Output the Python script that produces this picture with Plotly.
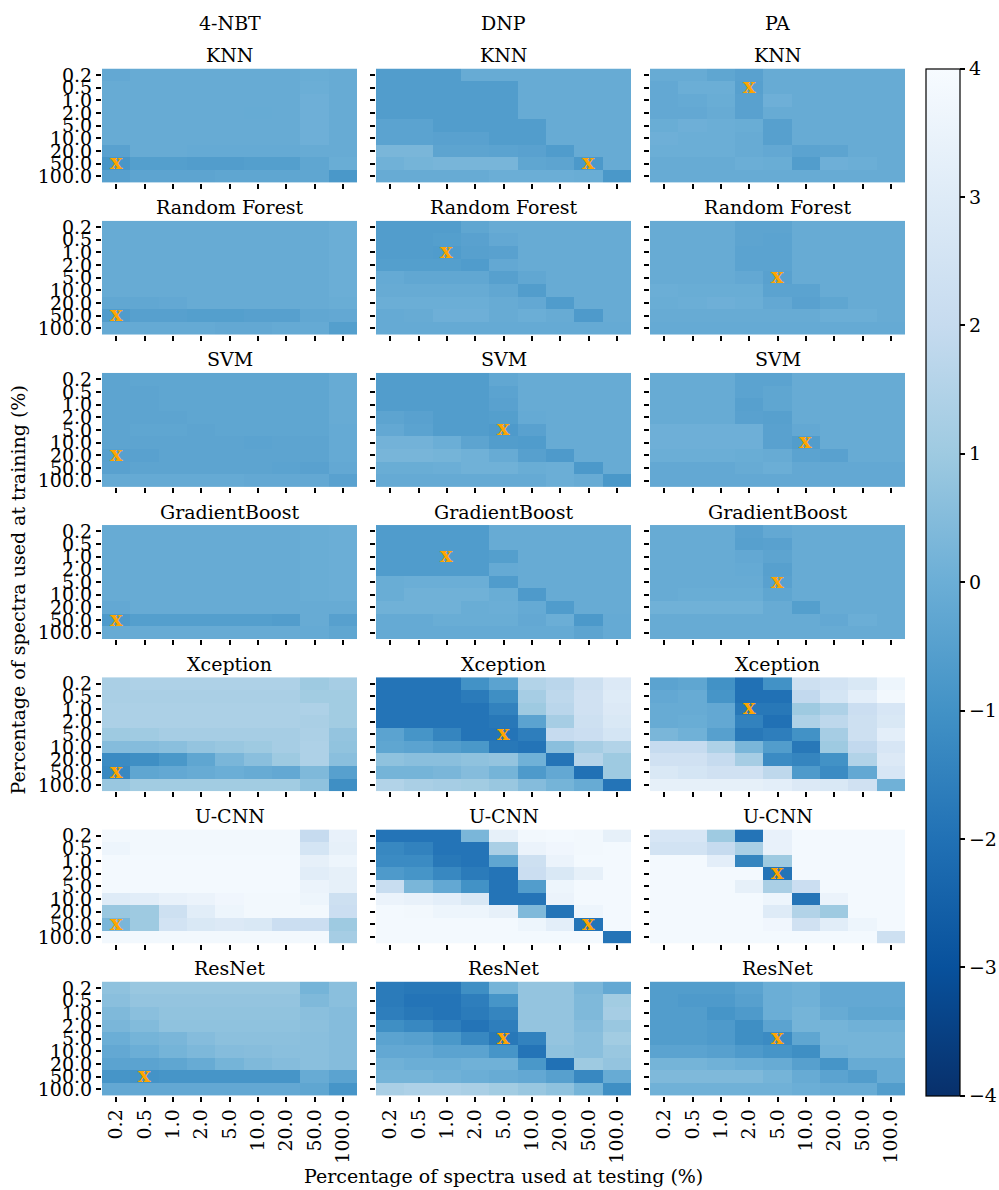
import plotly.graph_objects as go
from plotly.subplots import make_subplots

W, H = 999, 1190

pct_labels = ["0.2", "0.5", "1.0", "2.0", "5.0", "10.0", "20.0", "50.0", "100.0"]
analytes = ["4-NBT", "DNP", "PA"]
models = ["KNN", "Random Forest", "SVM", "GradientBoost", "Xception", "U-CNN", "ResNet"]

# rows: % spectra at training (0.2 ... 100.0), cols: % spectra at testing (0.2 ... 100.0)
knn_4nbt = [
    [-0.2, -0.1, -0.1, -0.1, -0.1, -0.1, -0.1, -0.05, -0.1],
    [-0.1, -0.1, -0.1, -0.1, -0.1, -0.1, -0.1, 0.0, -0.1],
    [-0.1, -0.1, -0.1, -0.1, -0.1, -0.1, -0.1, 0.05, -0.1],
    [-0.1, -0.1, -0.1, -0.1, -0.1, -0.12, -0.1, 0.05, -0.1],
    [-0.1, -0.1, -0.1, -0.1, -0.1, -0.1, -0.1, 0.05, -0.1],
    [-0.1, -0.1, -0.1, -0.1, -0.1, -0.1, -0.1, 0.05, -0.1],
    [-0.45, -0.1, -0.1, -0.15, -0.15, -0.15, -0.15, -0.1, -0.1],
    [-0.85, -0.55, -0.55, -0.6, -0.6, -0.55, -0.55, -0.3, -0.05],
    [-0.5, -0.35, -0.35, -0.35, -0.3, -0.3, -0.3, -0.3, -0.8],
]
knn_dnp = [
    [-0.6, -0.6, -0.6, -0.1, -0.1, -0.1, -0.1, -0.1, -0.1],
    [-0.6, -0.6, -0.62, -0.62, -0.62, -0.1, -0.1, -0.1, -0.1],
    [-0.6, -0.6, -0.6, -0.6, -0.6, -0.1, -0.1, -0.1, -0.1],
    [-0.6, -0.6, -0.6, -0.6, -0.6, -0.1, -0.1, -0.1, -0.1],
    [-0.4, -0.4, -0.6, -0.6, -0.6, -0.6, -0.1, -0.1, -0.1],
    [-0.4, -0.4, -0.45, -0.45, -0.62, -0.62, -0.1, -0.1, -0.1],
    [0.3, 0.3, -0.35, -0.35, -0.4, -0.45, -0.65, -0.1, -0.1],
    [0.1, 0.2, 0.25, 0.25, 0.25, -0.3, -0.35, -0.75, -0.1],
    [-0.1, -0.1, -0.1, -0.1, 0.0, 0.0, 0.0, -0.05, -0.8],
]
knn_pa = [
    [-0.1, -0.1, -0.3, -0.45, -0.1, -0.1, -0.1, -0.1, -0.1],
    [-0.2, 0.0, 0.0, -0.5, -0.1, -0.1, -0.1, -0.1, -0.1],
    [-0.2, -0.15, -0.05, -0.45, 0.05, -0.1, -0.1, -0.1, -0.1],
    [-0.2, -0.2, -0.1, -0.45, -0.1, -0.1, -0.1, -0.1, -0.1],
    [-0.05, 0.05, 0.0, -0.05, -0.5, -0.1, -0.1, -0.1, -0.1],
    [0.05, 0.0, 0.0, -0.1, -0.5, -0.1, -0.1, -0.1, -0.1],
    [0.0, 0.0, 0.0, -0.1, -0.2, -0.4, -0.35, -0.1, -0.1],
    [-0.1, -0.1, -0.1, 0.0, -0.05, -0.6, 0.05, 0.0, -0.1],
    [-0.1, -0.1, -0.1, -0.1, -0.1, -0.1, -0.1, -0.1, -0.1],
]
rf_4nbt = [
    [-0.1, -0.1, -0.1, -0.1, -0.1, -0.1, -0.1, -0.1, 0.0],
    [-0.1, -0.1, -0.1, -0.1, -0.1, -0.1, -0.1, -0.1, 0.0],
    [-0.1, -0.1, -0.1, -0.1, -0.1, -0.1, -0.1, -0.1, 0.0],
    [-0.1, -0.1, -0.1, -0.1, -0.1, -0.1, -0.1, -0.1, 0.0],
    [-0.1, -0.1, -0.1, -0.1, -0.1, -0.1, -0.1, -0.1, 0.0],
    [-0.1, -0.1, -0.1, -0.1, -0.1, -0.1, -0.1, -0.1, 0.0],
    [-0.25, -0.25, -0.2, -0.1, -0.1, -0.1, -0.1, -0.1, -0.05],
    [-0.65, -0.5, -0.5, -0.55, -0.55, -0.5, -0.5, -0.25, -0.2],
    [-0.15, -0.15, -0.15, -0.15, -0.2, -0.2, -0.15, -0.15, -0.55],
]
rf_dnp = [
    [-0.6, -0.6, -0.6, -0.3, -0.1, -0.1, -0.1, -0.1, -0.1],
    [-0.6, -0.6, -0.55, -0.45, -0.2, -0.1, -0.1, -0.1, -0.1],
    [-0.6, -0.6, -0.65, -0.5, -0.45, -0.1, -0.1, -0.1, -0.1],
    [-0.55, -0.55, -0.55, -0.65, -0.2, -0.1, -0.1, -0.1, -0.1],
    [-0.15, -0.25, -0.25, -0.25, -0.5, -0.25, -0.1, -0.1, -0.1],
    [-0.1, -0.1, -0.1, -0.1, -0.25, -0.6, -0.1, -0.1, -0.1],
    [0.0, 0.0, 0.0, 0.0, -0.1, -0.2, -0.65, -0.1, -0.1],
    [-0.15, -0.1, 0.05, 0.05, -0.1, 0.0, -0.1, -0.7, -0.1],
    [-0.15, -0.15, -0.15, -0.15, -0.15, -0.15, -0.15, -0.15, -0.15],
]
rf_pa = [
    [-0.1, -0.1, -0.1, -0.35, -0.35, -0.1, -0.1, -0.1, -0.1],
    [-0.1, -0.1, -0.1, -0.35, -0.4, -0.1, -0.1, -0.1, -0.1],
    [-0.1, -0.1, -0.1, -0.4, -0.4, -0.1, -0.1, -0.1, -0.1],
    [-0.1, -0.1, -0.1, -0.4, -0.4, -0.1, -0.1, -0.1, -0.1],
    [-0.1, -0.1, -0.1, -0.2, -0.45, -0.1, -0.1, -0.1, -0.1],
    [0.0, -0.05, -0.05, -0.05, -0.4, -0.4, -0.1, -0.1, -0.1],
    [-0.05, 0.0, 0.05, 0.0, -0.2, -0.45, -0.3, -0.1, -0.1],
    [-0.1, -0.1, -0.1, -0.1, -0.1, -0.1, 0.0, 0.0, -0.1],
    [-0.15, -0.15, -0.15, -0.15, -0.15, -0.15, -0.15, -0.15, -0.15],
]
svm_4nbt = [
    [-0.35, -0.3, -0.3, -0.3, -0.3, -0.3, -0.3, -0.3, -0.1],
    [-0.35, -0.35, -0.3, -0.3, -0.3, -0.3, -0.3, -0.3, -0.1],
    [-0.35, -0.35, -0.3, -0.3, -0.3, -0.3, -0.3, -0.3, -0.1],
    [-0.35, -0.35, -0.35, -0.3, -0.3, -0.3, -0.3, -0.3, -0.1],
    [-0.35, -0.3, -0.3, -0.35, -0.3, -0.3, -0.3, -0.3, -0.15],
    [-0.35, -0.35, -0.35, -0.35, -0.35, -0.4, -0.35, -0.35, -0.15],
    [-0.5, -0.45, -0.35, -0.35, -0.35, -0.35, -0.35, -0.35, -0.15],
    [-0.45, -0.35, -0.35, -0.35, -0.35, -0.35, -0.4, -0.45, -0.2],
    [-0.15, -0.15, -0.15, -0.15, -0.15, -0.2, -0.2, -0.2, -0.45],
]
svm_dnp = [
    [-0.6, -0.6, -0.6, -0.6, -0.25, -0.1, -0.1, -0.1, -0.1],
    [-0.6, -0.6, -0.6, -0.6, -0.4, -0.1, -0.1, -0.1, -0.1],
    [-0.6, -0.6, -0.6, -0.6, -0.45, -0.1, -0.1, -0.1, -0.1],
    [-0.35, -0.45, -0.6, -0.6, -0.55, -0.15, -0.1, -0.1, -0.1],
    [-0.2, -0.4, -0.6, -0.6, -0.7, -0.45, -0.1, -0.1, -0.1],
    [0.15, 0.15, 0.0, -0.35, -0.6, -0.65, -0.1, -0.1, -0.1],
    [0.25, 0.25, 0.2, 0.1, -0.1, -0.5, -0.7, -0.1, -0.1],
    [-0.05, -0.05, 0.0, 0.1, 0.1, -0.05, 0.0, -0.75, -0.1],
    [-0.15, -0.15, -0.15, -0.15, -0.15, -0.15, 0.0, -0.1, -0.8],
]
svm_pa = [
    [-0.1, -0.1, -0.1, -0.4, -0.4, -0.1, -0.1, -0.1, -0.1],
    [-0.1, -0.1, -0.1, -0.4, -0.3, -0.1, -0.1, -0.1, -0.1],
    [-0.1, -0.1, -0.1, -0.5, -0.3, -0.1, -0.1, -0.1, -0.1],
    [-0.1, -0.1, -0.1, -0.45, -0.5, -0.1, -0.1, -0.1, -0.1],
    [0.05, 0.05, 0.05, 0.05, -0.45, -0.2, -0.1, -0.1, -0.1],
    [0.05, 0.05, 0.05, 0.05, -0.45, -0.6, -0.1, -0.1, -0.1],
    [0.0, 0.0, 0.0, -0.05, -0.1, -0.4, -0.45, -0.1, -0.1],
    [-0.2, -0.2, -0.2, -0.1, 0.0, -0.2, -0.2, -0.2, -0.2],
    [-0.2, -0.2, -0.2, -0.2, -0.2, -0.2, -0.2, -0.2, -0.2],
]
gb_4nbt = [
    [-0.1, -0.1, -0.1, -0.1, -0.1, -0.1, -0.1, -0.05, 0.0],
    [-0.1, -0.1, -0.1, -0.1, -0.1, -0.1, -0.1, -0.05, 0.0],
    [-0.1, -0.1, -0.1, -0.1, -0.1, -0.1, -0.1, -0.05, 0.0],
    [-0.1, -0.1, -0.1, -0.1, -0.1, -0.1, -0.1, -0.05, 0.0],
    [-0.1, -0.1, -0.1, -0.1, -0.1, -0.1, -0.1, -0.05, 0.0],
    [-0.1, -0.1, -0.1, -0.1, -0.1, -0.1, -0.1, -0.05, 0.0],
    [-0.2, -0.1, -0.1, -0.1, -0.1, -0.1, -0.1, -0.1, -0.1],
    [-0.7, -0.55, -0.55, -0.55, -0.55, -0.55, -0.6, -0.1, -0.5],
    [-0.1, -0.1, -0.1, -0.1, -0.1, -0.1, -0.1, -0.15, -0.3],
]
gb_dnp = [
    [-0.65, -0.65, -0.65, -0.65, -0.1, -0.1, -0.1, -0.1, -0.1],
    [-0.65, -0.65, -0.65, -0.65, -0.1, -0.1, -0.1, -0.1, -0.1],
    [-0.65, -0.65, -0.65, -0.65, -0.55, -0.1, -0.1, -0.1, -0.1],
    [-0.65, -0.65, -0.65, -0.65, -0.15, -0.1, -0.1, -0.1, -0.1],
    [-0.05, 0.0, 0.0, 0.0, -0.65, -0.1, -0.1, -0.1, -0.1],
    [-0.05, 0.1, 0.1, 0.1, -0.05, -0.7, -0.1, -0.1, -0.1],
    [0.1, 0.1, 0.1, -0.05, 0.0, -0.15, -0.65, -0.1, -0.1],
    [-0.15, -0.15, -0.05, -0.05, -0.05, -0.2, 0.0, -0.75, -0.15],
    [-0.15, -0.15, -0.15, -0.15, -0.15, -0.15, -0.15, -0.35, -0.15],
]
gb_pa = [
    [-0.1, -0.1, -0.1, -0.45, -0.2, -0.1, -0.1, -0.1, -0.1],
    [-0.1, -0.1, -0.1, -0.5, -0.45, -0.1, -0.1, -0.1, -0.1],
    [-0.1, -0.1, -0.1, -0.2, -0.35, -0.1, -0.1, -0.1, -0.1],
    [-0.1, -0.1, -0.1, -0.15, -0.5, -0.1, -0.1, -0.1, -0.1],
    [-0.1, -0.1, -0.1, -0.1, -0.45, -0.1, -0.1, -0.1, -0.1],
    [-0.1, -0.05, -0.05, -0.05, -0.3, -0.1, -0.1, -0.1, -0.1],
    [0.1, 0.1, 0.1, 0.1, -0.1, -0.55, -0.1, -0.1, -0.1],
    [-0.1, -0.1, -0.1, -0.1, -0.1, -0.1, -0.2, 0.0, -0.1],
    [-0.1, -0.1, -0.1, -0.1, -0.1, -0.1, -0.1, -0.1, -0.1],
]
xception_4nbt = [
    [1.3, 1.4, 1.4, 1.4, 1.4, 1.4, 1.4, 1.0, 1.2],
    [1.3, 1.3, 1.3, 1.3, 1.3, 1.3, 1.3, 1.1, 1.1],
    [1.35, 1.35, 1.35, 1.35, 1.35, 1.35, 1.35, 1.4, 1.1],
    [1.35, 1.35, 1.35, 1.35, 1.35, 1.35, 1.35, 1.3, 1.1],
    [1.0, 1.05, 1.2, 1.2, 1.2, 1.2, 1.2, 1.35, 0.8],
    [0.5, 0.5, 0.6, 0.8, 0.9, 1.0, 1.2, 1.4, 0.75],
    [-1.2, -1.1, -0.8, -0.3, 0.3, 0.6, 1.0, 1.4, 0.6],
    [-1.3, -0.3, -0.2, -0.1, 0.0, -0.1, -0.2, 0.4, -0.5],
    [0.9, 1.1, 1.1, 1.1, 1.1, 1.1, 1.1, 0.7, -1.1],
]
xception_dnp = [
    [-1.9, -1.9, -1.9, -1.0, -0.4, 1.5, 1.7, 2.3, 2.9],
    [-1.9, -1.9, -1.9, -1.7, -1.1, 1.2, 1.8, 2.4, 3.0],
    [-1.9, -1.9, -1.9, -1.9, -1.5, 1.0, 1.7, 2.4, 2.9],
    [-1.9, -1.9, -1.9, -1.9, -1.8, -0.4, 1.2, 2.3, 2.8],
    [-0.4, -0.9, -1.4, -1.9, -1.9, -1.6, 2.0, 2.2, 2.6],
    [-0.3, -0.4, -0.6, -0.8, -1.8, -1.9, 0.6, 1.2, 1.5],
    [0.7, 0.6, 0.6, 0.7, 0.8, 0.1, -1.9, 1.6, 1.0],
    [0.2, 0.2, 0.3, 0.5, 0.2, -0.7, -0.2, -2.0, 1.0],
    [1.5, 1.3, 1.2, 1.1, 0.9, 0.5, 0.2, -0.1, -1.9],
]
xception_pa = [
    [-0.4, -0.3, -1.0, -2.0, -1.0, 2.3, 2.5, 2.8, 3.6],
    [-0.2, -0.1, -0.9, -2.0, -2.0, 1.9, 2.6, 3.2, 3.8],
    [-0.1, -0.1, -0.2, -1.8, -1.8, 1.0, 1.4, 2.2, 2.7],
    [-0.1, -0.05, -0.2, -1.5, -2.0, 1.4, 1.8, 2.3, 2.8],
    [0.3, 0.1, -0.5, -1.8, -1.6, -1.0, 1.2, 2.3, 3.2],
    [2.0, 2.0, 1.4, 0.3, -0.6, -1.8, 1.0, 1.9, 2.7],
    [2.4, 2.4, 2.0, 1.2, -1.2, -1.4, -1.0, 1.5, 2.9],
    [2.8, 2.6, 2.4, 2.4, 1.8, -0.7, -1.2, -0.2, 2.7],
    [3.3, 3.3, 3.3, 3.3, 3.2, 2.9, 2.8, 2.4, 0.1],
]
ucnn_4nbt = [
    [3.8, 3.8, 3.8, 3.8, 3.8, 3.8, 3.8, 2.0, 3.4],
    [3.6, 3.8, 3.8, 3.8, 3.8, 3.8, 3.8, 2.6, 3.3],
    [3.85, 3.85, 3.85, 3.85, 3.85, 3.85, 3.85, 3.3, 3.6],
    [3.85, 3.85, 3.85, 3.85, 3.85, 3.85, 3.85, 3.1, 3.3],
    [3.85, 3.85, 3.85, 3.85, 3.85, 3.85, 3.85, 3.5, 3.3],
    [3.0, 3.1, 3.4, 3.5, 3.7, 3.8, 3.8, 3.6, 2.3],
    [0.9, 1.0, 2.3, 3.1, 3.6, 3.8, 3.8, 3.8, 2.2],
    [0.3, 1.0, 2.5, 2.8, 2.9, 2.8, 2.2, 2.2, 1.0],
    [3.8, 3.8, 3.8, 3.8, 3.8, 3.8, 3.8, 3.8, 1.2],
]
ucnn_dnp = [
    [-1.9, -1.9, -1.9, 0.3, 3.3, 3.8, 3.85, 3.8, 3.3],
    [-1.3, -1.5, -1.9, -1.9, 1.3, 3.5, 3.7, 3.8, 3.85],
    [-1.2, -1.2, -1.8, -1.9, -0.3, 2.3, 3.5, 3.85, 3.85],
    [-0.7, -0.9, -1.3, -1.7, -1.9, 2.2, 2.8, 3.3, 3.85],
    [2.1, 0.3, -0.2, -1.0, -1.9, -0.6, 3.6, 3.85, 3.85],
    [3.5, 3.4, 3.2, 2.8, -1.9, -1.9, 3.5, 3.85, 3.85],
    [3.85, 3.8, 3.6, 3.6, 3.3, 0.4, -1.9, 3.6, 3.85],
    [3.85, 3.85, 3.85, 3.85, 3.85, 3.6, 3.2, -1.9, 3.85],
    [3.85, 3.85, 3.85, 3.85, 3.85, 3.85, 3.85, 3.85, -1.9],
]
ucnn_pa = [
    [2.7, 2.7, 1.0, -1.9, 3.4, 3.85, 3.85, 3.85, 3.85],
    [2.5, 2.5, 2.0, 1.3, 3.4, 3.85, 3.85, 3.85, 3.85],
    [3.85, 3.85, 3.2, -1.4, 1.0, 3.85, 3.85, 3.85, 3.85],
    [3.85, 3.85, 3.85, 3.85, -1.9, 3.85, 3.85, 3.85, 3.85],
    [3.85, 3.85, 3.85, 3.3, 1.3, 2.2, 3.85, 3.85, 3.85],
    [3.85, 3.85, 3.85, 3.85, 3.6, -1.9, 3.5, 3.85, 3.85],
    [3.85, 3.85, 3.85, 3.85, 3.0, 1.5, 1.0, 3.85, 3.85],
    [3.85, 3.85, 3.85, 3.85, 3.7, 2.4, 3.1, 3.6, 3.85],
    [3.85, 3.85, 3.85, 3.85, 3.85, 3.85, 3.85, 3.85, 2.3],
]
resnet_4nbt = [
    [0.7, 0.9, 0.9, 0.9, 0.9, 0.9, 0.9, 0.2, 0.6],
    [0.6, 0.8, 0.8, 0.8, 0.8, 0.8, 0.8, 0.4, 0.6],
    [0.4, 0.6, 0.75, 0.75, 0.75, 0.75, 0.75, 0.6, 0.5],
    [0.3, 0.45, 0.7, 0.7, 0.7, 0.7, 0.7, 0.65, 0.5],
    [0.0, 0.2, 0.3, 0.5, 0.65, 0.65, 0.65, 0.6, 0.5],
    [-0.2, 0.0, 0.2, 0.35, 0.5, 0.55, 0.6, 0.6, 0.5],
    [-0.4, -0.4, -0.3, -0.1, 0.2, 0.4, 0.5, 0.6, 0.5],
    [-0.9, -0.95, -0.9, -0.9, -0.9, -0.9, -0.9, -0.1, -0.4],
    [-0.2, -0.2, -0.2, -0.2, -0.2, -0.2, -0.2, -0.3, -0.9],
]
resnet_dnp = [
    [-1.7, -1.8, -1.8, -1.1, 0.2, 0.8, 0.8, 0.3, -0.2],
    [-1.7, -1.9, -1.9, -1.6, -0.9, 0.8, 0.8, 0.4, 1.1],
    [-1.6, -1.8, -1.9, -1.7, -1.4, 0.8, 0.8, 0.4, 1.2],
    [-1.1, -1.3, -1.6, -1.9, -1.6, 0.8, 0.8, 0.5, 0.9],
    [-0.4, -0.5, -0.8, -1.3, -1.8, -1.5, 0.8, 0.6, 1.1],
    [-0.2, -0.2, -0.4, -0.4, -0.9, -1.9, 0.7, 0.6, 0.9],
    [0.1, 0.0, 0.0, 0.1, 0.1, -0.8, -2.0, 1.0, 0.8],
    [0.2, 0.2, 0.1, 0.0, -0.1, -0.2, -0.5, -1.3, -0.1],
    [1.3, 1.4, 1.4, 1.3, 1.1, 0.9, 0.7, 0.2, -1.1],
]
resnet_pa = [
    [-0.6, -0.6, -0.6, -0.4, 0.0, 0.1, -0.2, -0.2, -0.2],
    [-0.6, -0.7, -0.7, -0.5, 0.0, 0.1, -0.2, -0.2, -0.2],
    [-0.6, -0.6, -0.9, -0.7, 0.0, 0.2, -0.1, -0.3, -0.3],
    [-0.6, -0.6, -0.7, -1.1, -0.4, 0.2, 0.2, 0.1, 0.1],
    [-0.6, -0.6, -0.7, -1.1, -1.2, -0.3, 0.2, 0.2, 0.2],
    [-0.4, -0.4, -0.5, -0.7, -0.9, -1.1, 0.1, 0.2, 0.2],
    [0.2, 0.2, 0.1, 0.0, -0.1, -0.5, -0.9, -0.1, -0.1],
    [0.4, 0.4, 0.4, 0.4, 0.2, -0.1, -0.4, -0.6, -0.1],
    [0.1, 0.1, 0.1, 0.1, 0.1, 0.0, -0.1, -0.1, -0.6],
]

panels = [
    [knn_4nbt, knn_dnp, knn_pa],
    [rf_4nbt, rf_dnp, rf_pa],
    [svm_4nbt, svm_dnp, svm_pa],
    [gb_4nbt, gb_dnp, gb_pa],
    [xception_4nbt, xception_dnp, xception_pa],
    [ucnn_4nbt, ucnn_dnp, ucnn_pa],
    [resnet_4nbt, resnet_dnp, resnet_pa],
]

# marked best cell per panel: (testing label, training label)
best_test = [
    ["0.2", "50.0", "2.0"],
    ["0.2", "1.0", "5.0"],
    ["0.2", "5.0", "10.0"],
    ["0.2", "1.0", "5.0"],
    ["0.2", "5.0", "2.0"],
    ["0.2", "50.0", "5.0"],
    ["0.5", "5.0", "5.0"],
]
best_train = [
    ["50.0", "50.0", "0.5"],
    ["50.0", "1.0", "5.0"],
    ["20.0", "5.0", "10.0"],
    ["50.0", "1.0", "5.0"],
    ["50.0", "5.0", "1.0"],
    ["50.0", "50.0", "2.0"],
    ["50.0", "5.0", "5.0"],
]

blues_r = [
    [0.0, "#08306b"], [0.125, "#08519c"], [0.25, "#2171b5"], [0.375, "#4292c6"],
    [0.5, "#6baed6"], [0.625, "#9ecae1"], [0.75, "#c6dbef"], [0.875, "#deebf7"],
    [1.0, "#f7fbff"],
]

FONT = "DejaVu Serif, 'DejaVu Serif', Liberation Serif, serif"
FS = 19

col_left = [102, 376, 650]
cell_w = 255
row_top0, row_h = 64, 115
row_pitch = (1099 - 64 - 115) / 6.0

fig = make_subplots(rows=7, cols=3)
idx = list(range(len(pct_labels)))
annotations = []

for i, model in enumerate(models):
    top = row_top0 + i * row_pitch
    for j in range(3):
        k = i * 3 + j + 1
        sfx = "" if k == 1 else str(k)
        left = col_left[j]
        fig.add_trace(
            go.Heatmap(z=panels[i][j], x=idx, y=idx, coloraxis="coloraxis",
                       hoverinfo="skip"),
            row=i + 1, col=j + 1,
        )
        fig.layout["xaxis" + sfx].update(
            domain=[left / W, (left + cell_w) / W],
            range=[-0.5, 8.5], tickmode="array", tickvals=idx, ticktext=pct_labels,
            showticklabels=(i == 6), tickangle=-90,
            ticks="outside", ticklen=5, tickwidth=2, tickcolor="black",
            showgrid=False, zeroline=False, showline=False,
            tickfont=dict(family=FONT, size=FS, color="black"),
        )
        fig.layout["yaxis" + sfx].update(
            domain=[1 - (top + row_h) / H, 1 - top / H],
            range=[8.5, -0.5], tickmode="array", tickvals=idx, ticktext=pct_labels,
            showticklabels=(j == 0),
            ticks="outside", ticklen=5, tickwidth=2, tickcolor="black",
            showgrid=False, zeroline=False, showline=False,
            tickfont=dict(family=FONT, size=FS, color="black"),
        )
        # subplot title
        annotations.append(dict(
            text=model, x=(left + cell_w / 2) / W, y=1 - (top - 13.5) / H,
            xref="paper", yref="paper", showarrow=False, xanchor="center", yanchor="middle",
            font=dict(family=FONT, size=FS, color="black"),
        ))
        # best marker
        annotations.append(dict(
            text="<b>x</b>", x=pct_labels.index(best_test[i][j]),
            y=pct_labels.index(best_train[i][j]),
            xref="x" + sfx, yref="y" + sfx, showarrow=False, yshift=2,
            font=dict(family=FONT, size=21, color="orange"),
        ))

for j, name in enumerate(analytes):
    annotations.append(dict(
        text=name, x=(col_left[j] + cell_w / 2) / W, y=1 - 18 / H,
        xref="paper", yref="paper", showarrow=False, xanchor="center", yanchor="middle",
        font=dict(family=FONT, size=FS, color="black"),
    ))

annotations.append(dict(
    text="Percentage of spectra used at testing (%)", x=503 / W, y=1 - 1180 / H,
    xref="paper", yref="paper", showarrow=False, xanchor="center", yanchor="middle",
    font=dict(family=FONT, size=FS, color="black"),
))
annotations.append(dict(
    text="Percentage of spectra used at training (%)", x=18 / W, y=1 - 590 / H,
    xref="paper", yref="paper", showarrow=False, xanchor="center", yanchor="middle",
    textangle=-90, font=dict(family=FONT, size=FS, color="black"),
))

fig.update_layout(
    width=W, height=H, margin=dict(l=0, r=0, t=0, b=0),
    paper_bgcolor="white", plot_bgcolor="white",
    font=dict(family=FONT, size=FS, color="black"),
    annotations=annotations,
    coloraxis=dict(
        colorscale=blues_r, cmin=-4, cmax=4,
        colorbar=dict(
            x=926 / W, xanchor="left", xref="paper",
            y=1 - 1099 / H, yanchor="bottom", yref="paper",
            len=1035 / H, lenmode="fraction",
            thickness=34, thicknessmode="pixels", xpad=0, ypad=0,
            outlinewidth=1.2, outlinecolor="black",
            ticks="outside", ticklen=5, tickwidth=1.5, tickcolor="black",
            tickmode="array", tickvals=[-4, -3, -2, -1, 0, 1, 2, 3, 4],
            tickfont=dict(family=FONT, size=FS, color="black"),
        ),
    ),
)

fig.write_html("out.html")
